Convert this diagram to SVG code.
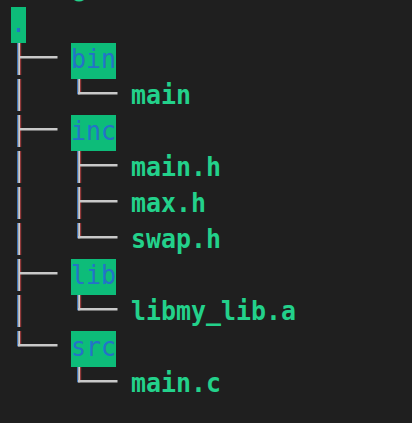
<svg xmlns="http://www.w3.org/2000/svg" width="412" height="423" viewBox="0 0 412 423">
<style>
.dir rect{fill:#0dbc79}
.dir text{fill:#2472c8;font-family:"DejaVu Sans Mono","Liberation Mono",monospace;font-size:26px}
.file text{fill:#23d18b;font-family:"DejaVu Sans Mono","Liberation Mono",monospace;font-size:26px;font-weight:bold}
.vb{fill:#3f74b8}
.vw{fill:#cfcfcf}
.vr{fill:#a83a3a}
.h{stroke:#c9c9c9;stroke-width:2.4}
</style>
<rect width="412" height="423" fill="#1f1f1f"/>
<path d="M74 0 Q79 3 84 0 Z" fill="#23d18b"/>
<g id="root" class="dir"><rect x="11" y="7" width="15" height="36"/><text x="11" y="32" textLength="15" lengthAdjust="spacingAndGlyphs">.</text></g>
<g id="bin" class="dir"><rect x="71" y="43" width="45" height="36"/><text x="71" y="68" textLength="45" lengthAdjust="spacingAndGlyphs">bin</text></g>
<g id="bin-main" class="file"><text x="131" y="104" textLength="60" lengthAdjust="spacingAndGlyphs">main</text></g>
<g id="inc" class="dir"><rect x="71" y="115" width="45" height="36"/><text x="71" y="140" textLength="45" lengthAdjust="spacingAndGlyphs">inc</text></g>
<g id="main-h" class="file"><text x="131" y="176" textLength="90" lengthAdjust="spacingAndGlyphs">main.h</text></g>
<g id="max-h" class="file"><text x="131" y="212" textLength="75" lengthAdjust="spacingAndGlyphs">max.h</text></g>
<g id="swap-h" class="file"><text x="131" y="248" textLength="90" lengthAdjust="spacingAndGlyphs">swap.h</text></g>
<g id="lib" class="dir"><rect x="71" y="259" width="45" height="36"/><text x="71" y="284" textLength="45" lengthAdjust="spacingAndGlyphs">lib</text></g>
<g id="libmy" class="file"><text x="131" y="320" textLength="165" lengthAdjust="spacingAndGlyphs">libmy_lib.a</text></g>
<g id="src" class="dir"><rect x="71" y="331" width="45" height="36"/><text x="71" y="356" textLength="45" lengthAdjust="spacingAndGlyphs">src</text></g>
<g id="main-c" class="file"><text x="131" y="392" textLength="90" lengthAdjust="spacingAndGlyphs">main.c</text></g>
<g id="connectors">
<defs>
<g id="vseg"><rect class="vb" x="0" y="0" width="1.2" height="32"/><rect class="vw" x="1.2" y="0" width="2" height="32"/><rect class="vr" x="3.2" y="0" width="1" height="32"/></g>
<g id="vend"><rect class="vb" x="0" y="0" width="1.2" height="15.3"/><rect class="vw" x="1.2" y="0" width="2" height="15.3"/><rect class="vr" x="3.2" y="0" width="1" height="14"/></g>
</defs>
<use href="#vseg" x="17" y="43"/>
<use href="#vseg" x="17" y="79"/>
<use href="#vseg" x="17" y="115"/>
<use href="#vseg" x="17" y="151"/>
<use href="#vseg" x="17" y="187"/>
<use href="#vseg" x="17" y="223"/>
<use href="#vseg" x="17" y="259"/>
<use href="#vseg" x="17" y="295"/>
<use href="#vend" x="17" y="331"/>
<line class="h" x1="20" y1="57.3" x2="57.5" y2="57.3"/>
<line class="h" x1="20" y1="129.3" x2="57.5" y2="129.3"/>
<line class="h" x1="20" y1="273.3" x2="57.5" y2="273.3"/>
<line class="h" x1="18" y1="345.3" x2="57.5" y2="345.3"/>
<use href="#vend" x="77" y="79"/>
<use href="#vseg" x="77" y="151"/>
<use href="#vseg" x="77" y="187"/>
<use href="#vend" x="77" y="223"/>
<use href="#vend" x="77" y="295"/>
<use href="#vend" x="77" y="367"/>
<line class="h" x1="78" y1="93.3" x2="117.5" y2="93.3"/>
<line class="h" x1="80" y1="165.3" x2="117.5" y2="165.3"/>
<line class="h" x1="80" y1="201.3" x2="117.5" y2="201.3"/>
<line class="h" x1="78" y1="237.3" x2="117.5" y2="237.3"/>
<line class="h" x1="78" y1="309.3" x2="117.5" y2="309.3"/>
<line class="h" x1="78" y1="381.3" x2="117.5" y2="381.3"/>
</g>
</svg>
